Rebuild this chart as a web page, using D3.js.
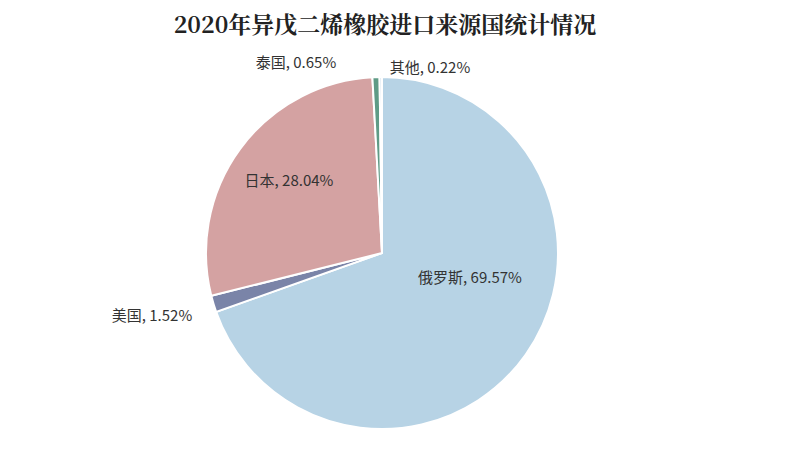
<!DOCTYPE html><html><head><meta charset="utf-8"><script src="https://cdn.jsdelivr.net/npm/d3@7"></script>
<style>body{margin:0;background:#fff}</style></head><body><svg id="c" width="790" height="464"></svg>
<script>
const categories=["俄罗斯","美国","日本","泰国","其他"];
const values=[69.57,1.52,28.04,0.65,0.22];
const colors=["#b7d3e5","#7a84a8","#d4a2a2","#5f9b86","#c5d8e6"];
const labelPos=[[470,283,"middle"],[152,321,"middle"],[289,186,"middle"],[296,68,"middle"],[430,73,"middle"]];
const svg=d3.select("#c");
svg.append("text").attr("x",385).attr("y",33).attr("text-anchor","middle")
 .attr("font-family","Noto Serif CJK SC, Noto Sans CJK SC").attr("font-weight","bold").attr("font-size",23).attr("fill","#222")
 .text("2020年异戊二烯橡胶进口来源国统计情况");
const pie=d3.pie().sort(null)(values);
const arc=d3.arc().innerRadius(0).outerRadius(176);
const g=svg.append("g").attr("transform","translate(382,253)");
g.selectAll("path").data(pie).join("path").attr("d",arc).attr("fill",(d,i)=>colors[i]).attr("stroke","#fff").attr("stroke-width",2);
svg.selectAll("text.l").data(categories).join("text").attr("class","l")
 .attr("x",(d,i)=>labelPos[i][0]).attr("y",(d,i)=>labelPos[i][1]).attr("text-anchor","middle")
 .attr("font-family","Noto Sans CJK SC").attr("font-size",15).attr("fill","#333")
 .text((d,i)=>d+", "+values[i].toFixed(2)+"%");
</script></body></html>
